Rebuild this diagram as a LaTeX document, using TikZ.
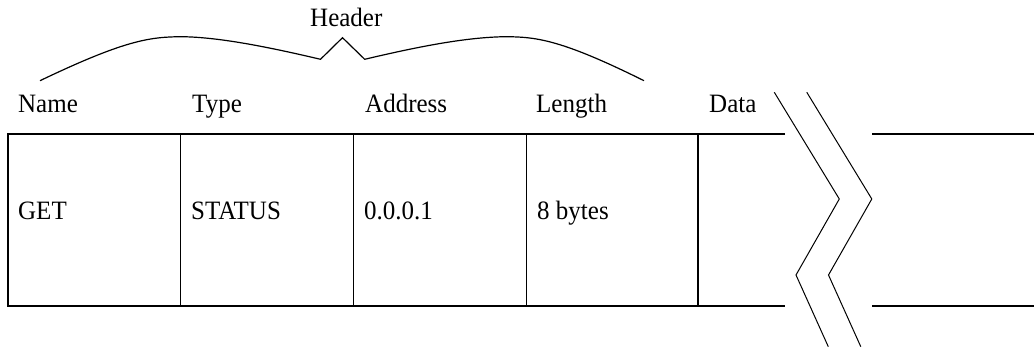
\documentclass[tikz,border=0pt]{standalone}
\usepackage{fontspec}
\setmainfont{Liberation Serif}
\begin{document}
\begin{tikzpicture}[x=1pt,y=-1pt,
  lbl/.style={anchor=base west,inner sep=0pt,font=\fontsize{25}{30}\selectfont,yscale=1.06},
  thick rule/.style={line width=2pt},
  thin rule/.style={line width=1pt},
  brk/.style={line width=1pt,line join=miter},
  brace line/.style={line width=1.2pt}]
\useasboundingbox (0,0) rectangle (1034,352);

% field names
\node[lbl] (hdr) at (310,27) {Header};
\node[lbl] (lname) at (18,112.5) {Name};
\node[lbl] (ltype) at (192,112.5) {Type};
\node[lbl] (laddr) at (365,112.5) {Address};
\node[lbl] (llen) at (536,112.5) {Length};
\node[lbl] (ldata) at (709,112.5) {Data};

% brace over the header fields
\coordinate (bl) at (40,80.7);
\coordinate (br) at (644,80.7);
\coordinate (tip) at (342.5,37.7);
\draw[brace line] (bl) .. controls (125,40) and (150,37) .. (181,36.7)
  .. controls (215,37) and (260,45) .. (320.5,59.3)
  -- (tip) -- (364.7,59.3)
  .. controls (425,45) and (470,37) .. (506.7,36.7)
  .. controls (537,37) and (562,40) .. (br);

% frame
\coordinate (tl) at (8,134.5);
\coordinate (blf) at (8,306.5);
\coordinate (tr) at (785,134.5);
\coordinate (brr) at (785,306.5);
\coordinate (dt) at (698.3,134.5);
\coordinate (db) at (698.3,306.5);
\draw[thick rule] (tr) -- (tl) -- (blf) -- (brr);
\draw[thick rule] (dt) -- (db);
\draw[thin rule] (180.5,134.5) -- (180.5,306.5);
\draw[thin rule] (353,134.5) -- (353,306.5);
\draw[thin rule] (526,134.5) -- (526,306.5);

% continuation after the break
\coordinate (rt) at (872,134.5);
\coordinate (rb) at (872,306.5);
\draw[thick rule] (rt) -- (1034,134.5);
\draw[thick rule] (rb) -- (1034,306.5);

% break marks
\draw[brk] (774.3,92.3) -- (839.3,199) -- (796,275) -- (828.3,346.7);
\draw[brk] (806.8,92.3) -- (871.8,199) -- (828.5,275) -- (860.8,346.7);

% field values
\node[lbl] (vname) at (18,220) {GET};
\node[lbl] (vtype) at (191,220) {STATUS};
\node[lbl] (vaddr) at (364,220) {0.0.0.1};
\node[lbl] (vlen) at (537,220) {8 bytes};
\end{tikzpicture}
\end{document}
